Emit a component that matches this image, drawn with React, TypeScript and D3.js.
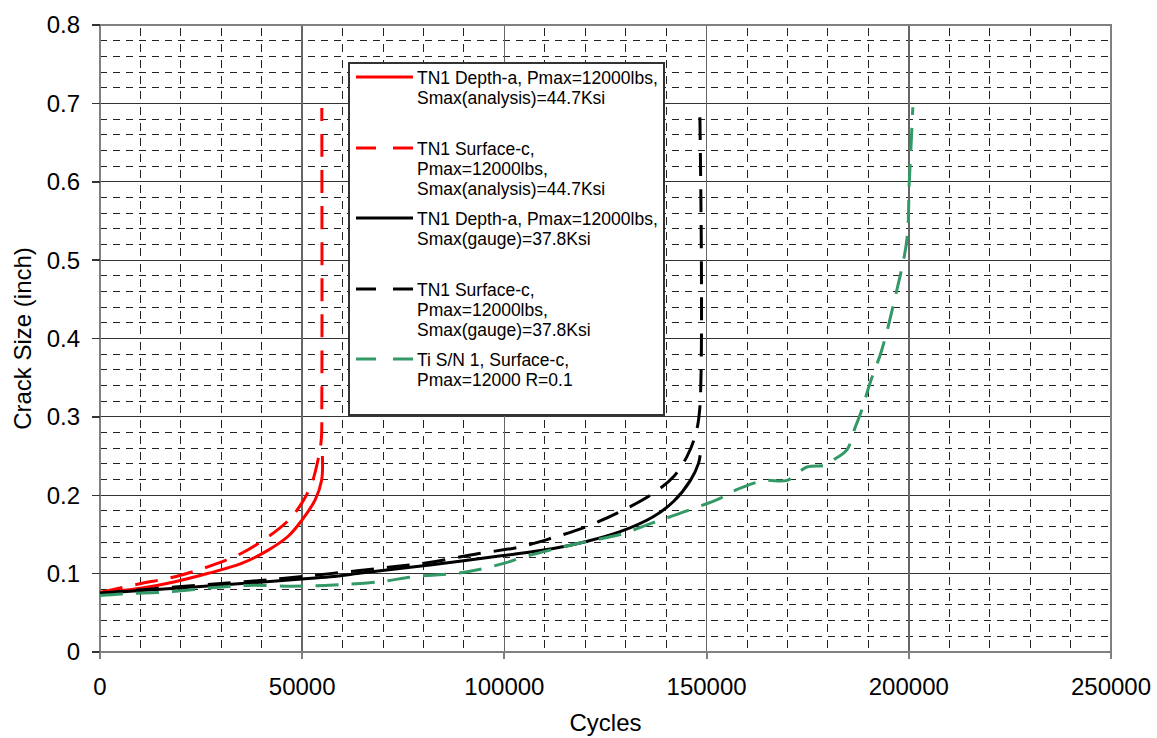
import React from 'react'
import * as d3 from 'd3'

const width = 1157
const height = 738
const plotLeft = 100
const plotRight = 1111
const plotTop = 25
const plotBottom = 652
const font = 'Liberation Sans, Arial, sans-serif'

// axis ticks
const xTickValues = [0, 50000, 100000, 150000, 200000, 250000]
const xTickLabels = ['0', '50000', '100000', '150000', '200000', '250000']
const yTickValues = [0, 0.1, 0.2, 0.3, 0.4, 0.5, 0.6, 0.7, 0.8]
const yTickLabels = ['0', '0.1', '0.2', '0.3', '0.4', '0.5', '0.6', '0.7', '0.8']

// TN1 Depth-a, Smax(analysis)
const redDepthCycles = [0, 9500, 18550, 26800, 35000, 41600, 46600, 49900, 53200, 54800, 55000]
const redDepthSize = [0.076, 0.081, 0.0897, 0.1004, 0.113, 0.13, 0.148, 0.168, 0.194, 0.219, 0.25]

// TN1 Surface-c, Smax(analysis)
const redSurfCycles = [0, 9500, 18550, 26800, 35000, 41600, 46600, 49900, 52350, 53900, 54700, 54850, 54850]
const redSurfSize = [0.076, 0.0867, 0.096, 0.109, 0.126, 0.147, 0.168, 0.19, 0.215, 0.245, 0.27, 0.32, 0.694]

// TN1 Depth-a, Smax(gauge)
const blackDepthCycles = [0, 23300, 36700, 49900, 56900, 65100, 81600, 99700, 112100, 120300, 128600, 136800, 141800, 146000, 148000, 148400]
const blackDepthSize = [0.075, 0.083, 0.088, 0.093, 0.096, 0.101, 0.111, 0.123, 0.132, 0.141, 0.1535, 0.1726, 0.192, 0.219, 0.2407, 0.251]

// TN1 Surface-c, Smax(gauge)
const blackSurfCycles = [0, 21000, 36600, 45700, 56900, 71300, 81000, 93700, 103800, 112100, 120300, 128600, 136800, 141800, 145100, 147100, 148300, 148300]
const blackSurfSize = [0.075, 0.084, 0.09, 0.094, 0.1, 0.108, 0.114, 0.1256, 0.134, 0.146, 0.16, 0.179, 0.2025, 0.2236, 0.249, 0.2746, 0.31, 0.697]

// Ti S/N 1, Surface-c
const greenCycles = [0, 5400, 17700, 27600, 36700, 47400, 55600, 69200, 77500, 88200, 93100, 100500, 104200, 112100, 120300, 128600, 136800, 145100, 153300, 156300, 164000, 169900, 174800, 179500, 181300, 184700, 186700, 188400, 190400, 193300, 196500, 199500, 200100, 200500, 201000]
const greenSize = [0.072, 0.074, 0.077, 0.082, 0.085, 0.084, 0.085, 0.0897, 0.096, 0.1004, 0.1046, 0.114, 0.1205, 0.131, 0.141, 0.15, 0.165, 0.18, 0.196, 0.2045, 0.2185, 0.219, 0.236, 0.2385, 0.245, 0.258, 0.286, 0.309, 0.343, 0.385, 0.45, 0.525, 0.598, 0.64, 0.695]

const series = [
  { cycles: redDepthCycles, size: redDepthSize, color: '#ff0000', dash: null, label: ['TN1 Depth-a, Pmax=12000lbs,', 'Smax(analysis)=44.7Ksi'] },
  { cycles: redSurfCycles, size: redSurfSize, color: '#ff0000', dash: '23 13', label: ['TN1 Surface-c,', 'Pmax=12000lbs,', 'Smax(analysis)=44.7Ksi'] },
  { cycles: blackDepthCycles, size: blackDepthSize, color: '#000000', dash: null, label: ['TN1 Depth-a, Pmax=12000lbs,', 'Smax(gauge)=37.8Ksi'] },
  { cycles: blackSurfCycles, size: blackSurfSize, color: '#000000', dash: '23 13', label: ['TN1 Surface-c,', 'Pmax=12000lbs,', 'Smax(gauge)=37.8Ksi'] },
  { cycles: greenCycles, size: greenSize, color: '#339966', dash: '23 13', label: ['Ti S/N 1, Surface-c,', 'Pmax=12000 R=0.1'] },
]
const legendRowY = [77, 148, 218, 289, 359]

export default function App() {
  const x = d3.scaleLinear().domain([0, 250000]).range([plotLeft, plotRight])
  const y = d3.scaleLinear().domain([0, 0.8]).range([plotBottom, plotTop])

  const line = d3.line<[number, number]>()
    .x(d => x(d[0]))
    .y(d => y(d[1]))
    .curve(d3.curveCatmullRom.alpha(0.5))

  const xMinor = d3.range(10000, 250000, 10000).filter(v => v % 50000 !== 0)
  const yMinor = d3.range(1, 40).filter(i => i % 5 !== 0).map(i => i * 0.02)

  return (
    <svg width={width} height={height} style={{ position: 'absolute', left: 0, top: 0, display: 'block', background: '#fff' }}
      fontFamily={font}>
      {/* minor grid */}
      <g stroke='#222' strokeWidth={1} shapeRendering='crispEdges'>
        {yMinor.map(v => (
          <line key={'hy' + v} x1={plotLeft} x2={plotRight} y1={y(v)} y2={y(v)} strokeDasharray='7 6' />
        ))}
        {xMinor.map(v => (
          <line key={'vx' + v} x1={x(v)} x2={x(v)} y1={plotBottom} y2={plotTop} strokeDasharray='8 7.68' strokeDashoffset={-4} />
        ))}
      </g>
      {/* major grid */}
      <g shapeRendering='crispEdges'>
        {yTickValues.slice(1, -1).map(v => (
          <line key={'my' + v} x1={plotLeft} x2={plotRight} y1={y(v)} y2={y(v)} stroke='#333' strokeWidth={1} />
        ))}
        {xTickValues.slice(1, -1).map(v => (
          <line key={'mx' + v} x1={x(v)} x2={x(v)} y1={plotTop} y2={plotBottom} stroke='#666' strokeWidth={1.5} />
        ))}
      </g>
      {/* plot border */}
      <rect x={plotLeft} y={plotTop} width={plotRight - plotLeft} height={plotBottom - plotTop}
        fill='none' stroke='#808080' strokeWidth={2} shapeRendering='crispEdges' />
      {/* ticks */}
      <g stroke='#333' strokeWidth={1.5} shapeRendering='crispEdges'>
        {yTickValues.map(v => (
          <line key={'ty' + v} x1={plotLeft - 8} x2={plotLeft} y1={y(v)} y2={y(v)} />
        ))}
        {xTickValues.map(v => (
          <line key={'tx' + v} x1={x(v)} x2={x(v)} y1={plotBottom} y2={plotBottom + 7} stroke='#808080' strokeWidth={2} />
        ))}
      </g>
      {/* tick labels */}
      <g fontSize={24} fill='#000'>
        {yTickValues.map((v, i) => (
          <text key={'ly' + v} x={80} y={y(v)} dy='0.35em' textAnchor='end'>{yTickLabels[i]}</text>
        ))}
        {xTickValues.map((v, i) => (
          <text key={'lx' + v} x={x(v)} y={695} textAnchor='middle'>{xTickLabels[i]}</text>
        ))}
      </g>
      {/* axis titles */}
      <text x={(plotLeft + plotRight) / 2} y={731} fontSize={24} textAnchor='middle'>Cycles</text>
      <text transform={`translate(31, ${(plotTop + plotBottom) / 2}) rotate(-90)`} fontSize={24} textAnchor='middle'>Crack Size (inch)</text>
      {/* series */}
      <g fill='none' strokeWidth={3}>
        {series.map((s, i) => (
          <path key={'s' + i}
            d={line(s.cycles.map((c, j) => [c, s.size[j]] as [number, number])) || ''}
            stroke={s.color}
            strokeDasharray={s.dash || undefined} />
        ))}
      </g>
      {/* legend */}
      <rect x={349} y={63} width={315} height={352} fill='#fff' stroke='#333' strokeWidth={1.5} shapeRendering='crispEdges' />
      {series.map((s, i) => (
        <g key={'lg' + i}>
          <line x1={356} x2={413} y1={legendRowY[i]} y2={legendRowY[i]} stroke={s.color} strokeWidth={3}
            strokeDasharray={s.dash ? '20 17' : undefined} />
          {s.label.map((t, k) => (
            <text key={k} x={417} y={legendRowY[i] + 7 + k * 20} fontSize={17.5}>{t}</text>
          ))}
        </g>
      ))}
    </svg>
  )
}
